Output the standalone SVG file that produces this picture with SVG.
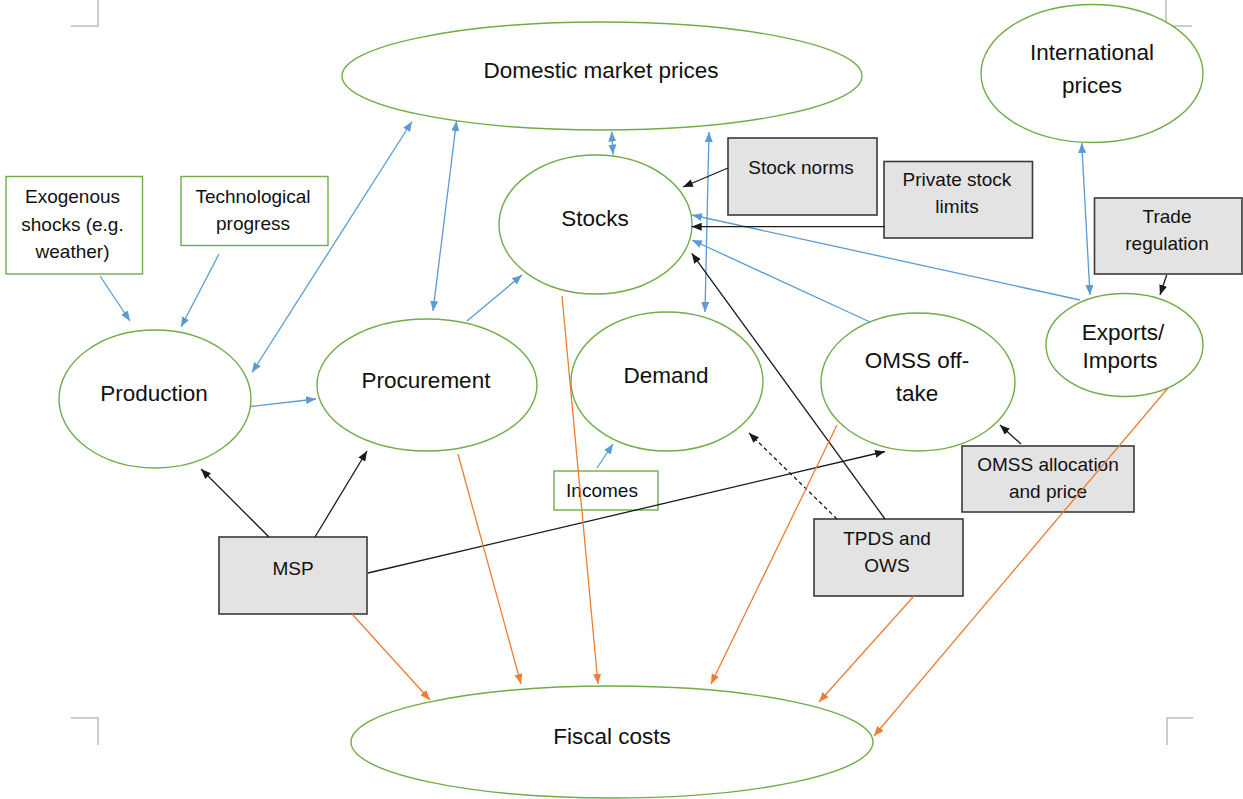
<svg xmlns="http://www.w3.org/2000/svg" width="1243" height="799" viewBox="0 0 1243 799">
<style>
text{font-family:"Liberation Sans",Arial,sans-serif;fill:#111;text-anchor:middle}
.el{fill:#fff;stroke:#70AD47;stroke-width:1.4}
.gb{fill:#fff;stroke:#70AD47;stroke-width:1.4}
.xb{fill:#E3E3E3;stroke:#3A3A3A;stroke-width:1.6}
.big{font-size:22.5px}
.sm{font-size:19px}
.blue{stroke:#5B9BD5;stroke-width:1.3;fill:none}
.blk{stroke:#1A1A1A;stroke-width:1.3;fill:none}
.org{stroke:#ED7D31;stroke-width:1.3;fill:none}
.mark{stroke:#BDBDBD;stroke-width:1.5;fill:none}
</style>
<defs>
<marker id="ab" viewBox="0 0 10 8" refX="10" refY="4" markerWidth="10" markerHeight="8" markerUnits="userSpaceOnUse" orient="auto-start-reverse"><path d="M0,0 L10,4 L0,8 z" fill="#5B9BD5"/></marker>
<marker id="ak" viewBox="0 0 10 8" refX="10" refY="4" markerWidth="10" markerHeight="8" markerUnits="userSpaceOnUse" orient="auto-start-reverse"><path d="M0,0 L10,4 L0,8 z" fill="#1A1A1A"/></marker>
<marker id="ao" viewBox="0 0 10 8" refX="10" refY="4" markerWidth="10" markerHeight="8" markerUnits="userSpaceOnUse" orient="auto-start-reverse"><path d="M0,0 L10,4 L0,8 z" fill="#ED7D31"/></marker>
</defs>
<rect width="1243" height="799" fill="#fff"/>
<path class="mark" d="M71,26 H98 V0 M1192,26 H1166 V0 M71,718 H98 V745 M1193,718 H1167 V745"/>

<g id="n-domestic"><ellipse class="el" cx="602" cy="76" rx="260" ry="54"/><text class="big" x="601" y="78">Domestic market prices</text></g>
<g id="n-international"><ellipse class="el" cx="1092" cy="73.5" rx="111" ry="69"/><text class="big" x="1092" y="60">International</text><text class="big" x="1092" y="93">prices</text></g>
<g id="n-stocks"><ellipse class="el" cx="595.5" cy="224.5" rx="96.5" ry="69.5"/><text class="big" x="595" y="226">Stocks</text></g>
<g id="n-production"><ellipse class="el" cx="155" cy="399" rx="96" ry="69"/><text class="big" x="154" y="401">Production</text></g>
<g id="n-procurement"><ellipse class="el" cx="427" cy="385" rx="110" ry="66"/><text class="big" x="426" y="388">Procurement</text></g>
<g id="n-demand"><ellipse class="el" cx="667" cy="381.5" rx="96" ry="69.5"/><text class="big" x="666" y="383">Demand</text></g>
<g id="n-omss"><ellipse class="el" cx="918" cy="382" rx="97" ry="69"/><text class="big" x="917" y="368">OMSS off-</text><text class="big" x="917" y="401">take</text></g>
<g id="n-exports"><ellipse class="el" cx="1124.5" cy="345" rx="78.5" ry="51.5"/><text class="big" x="1123" y="340">Exports/</text><text class="big" x="1120" y="368">Imports</text></g>
<g id="n-fiscal"><ellipse class="el" cx="612" cy="742" rx="261" ry="56"/><text class="big" x="612" y="744">Fiscal costs</text></g>

<g id="n-exogenous"><rect class="gb" x="6" y="176.5" width="136.5" height="97.5"/><text class="sm" x="72.5" y="202.5">Exogenous</text><text class="sm" x="72.5" y="231">shocks (e.g.</text><text class="sm" x="72.5" y="257.5">weather)</text></g>
<g id="n-tech"><rect class="gb" x="181" y="176.5" width="147" height="69"/><text class="sm" x="253" y="203">Technological</text><text class="sm" x="253" y="230">progress</text></g>
<g id="n-incomes"><rect class="gb" x="554" y="471" width="104" height="39"/><text class="sm" x="602" y="497">Incomes</text></g>

<g id="n-stocknorms"><rect class="xb" x="728" y="138" width="149" height="77"/><text class="sm" x="801" y="173.5">Stock norms</text></g>
<g id="n-private"><rect class="xb" x="884" y="161.5" width="148.5" height="76.5"/><text class="sm" x="957" y="186">Private stock</text><text class="sm" x="957" y="213">limits</text></g>
<g id="n-trade"><rect class="xb" x="1094.5" y="198" width="147.5" height="76"/><text class="sm" x="1167" y="223">Trade</text><text class="sm" x="1167" y="250">regulation</text></g>
<g id="n-msp"><rect class="xb" x="219" y="537" width="148" height="77"/><text class="sm" x="293" y="574.5">MSP</text></g>
<g id="n-tpds"><rect class="xb" x="814" y="519" width="149" height="77"/><text class="sm" x="887" y="544.5">TPDS and</text><text class="sm" x="887" y="572">OWS</text></g>
<g id="n-omssalloc"><rect class="xb" x="962" y="446" width="172" height="66"/><text class="sm" x="1048" y="471">OMSS allocation</text><text class="sm" x="1048" y="498">and price</text></g>

<g id="connectors">
<line class="blue" x1="100" y1="276" x2="130" y2="321" marker-end="url(#ab)"/>
<line class="blue" x1="219" y1="254" x2="181" y2="327" marker-end="url(#ab)"/>
<line class="blue" x1="252" y1="372.5" x2="412" y2="121.5" marker-start="url(#ab)" marker-end="url(#ab)"/>
<line class="blue" x1="433" y1="311" x2="456.5" y2="121" marker-start="url(#ab)" marker-end="url(#ab)"/>
<line class="blue" x1="251" y1="406.5" x2="316" y2="399" marker-end="url(#ab)"/>
<line class="blue" x1="467" y1="321" x2="522" y2="275" marker-end="url(#ab)"/>
<line class="blue" x1="613" y1="154.5" x2="611.7" y2="131.5" marker-start="url(#ab)" marker-end="url(#ab)"/>
<line class="blue" x1="705" y1="312" x2="709" y2="132" marker-start="url(#ab)" marker-end="url(#ab)"/>
<line class="blue" x1="1080" y1="300" x2="692" y2="215" marker-end="url(#ab)"/>
<line class="blue" x1="870" y1="322" x2="692" y2="240" marker-end="url(#ab)"/>
<line class="blue" x1="1090" y1="295" x2="1081.7" y2="143" marker-start="url(#ab)" marker-end="url(#ab)"/>
<line class="blue" x1="597" y1="468" x2="613" y2="444" marker-end="url(#ab)"/>

<line class="blk" x1="728" y1="168" x2="683" y2="187" marker-end="url(#ak)"/>
<line class="blk" x1="885" y1="226.7" x2="691.7" y2="226.7" marker-end="url(#ak)"/>
<line class="blk" x1="1166.7" y1="275" x2="1160" y2="295" marker-end="url(#ak)"/>
<line class="blk" x1="269" y1="537" x2="201" y2="469" marker-end="url(#ak)"/>
<line class="blk" x1="315" y1="537" x2="367" y2="451" marker-end="url(#ak)"/>
<line class="blk" x1="368" y1="573" x2="885" y2="451.5" marker-end="url(#ak)"/>
<line class="blk" x1="885" y1="519" x2="691.7" y2="253.3" marker-end="url(#ak)"/>
<line class="blk" x1="837" y1="519" x2="749" y2="433" stroke-dasharray="4,3" marker-end="url(#ak)"/>
<line class="blk" x1="1021" y1="444" x2="1000" y2="425" marker-end="url(#ak)"/>

<line class="org" x1="352" y1="614" x2="430" y2="700" marker-end="url(#ao)"/>
<line class="org" x1="458" y1="454" x2="521" y2="684" marker-end="url(#ao)"/>
<line class="org" x1="562" y1="296" x2="598" y2="684" marker-end="url(#ao)"/>
<line class="org" x1="837" y1="425" x2="711" y2="684" marker-end="url(#ao)"/>
<line class="org" x1="914" y1="596" x2="819" y2="702" marker-end="url(#ao)"/>
<line class="org" x1="1168" y1="388" x2="874" y2="736" marker-end="url(#ao)"/>
</g>
</svg>
